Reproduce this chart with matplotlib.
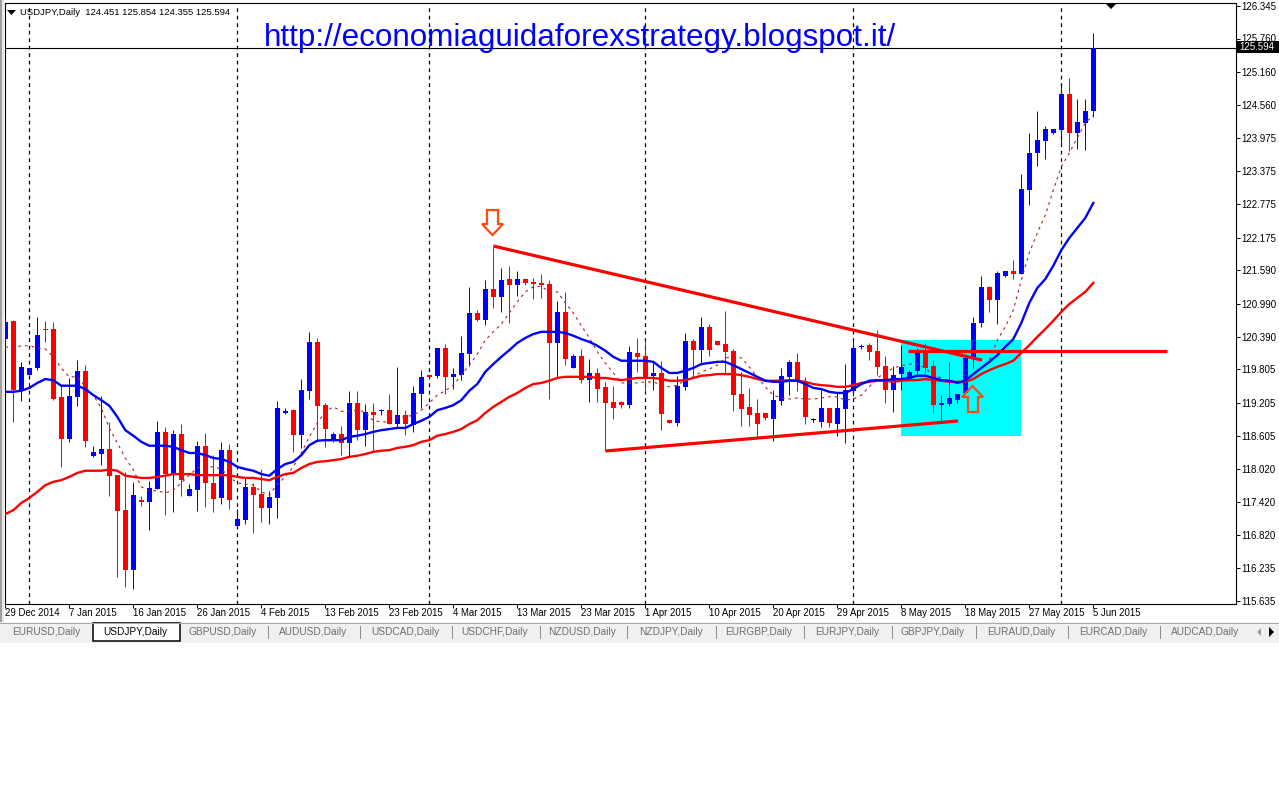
# USDJPY daily candles, MT4 style screenshot
import matplotlib
matplotlib.use('Agg')
import numpy as np
import matplotlib.pyplot as plt
from matplotlib.patches import Polygon, Rectangle

plt.rcParams['font.family'] = ['Liberation Sans', 'DejaVu Sans']

opens = [120.351,120.675,119.415,119.703,119.829,120.531,120.531,119.307,118.551,119.307,119.775,118.245,118.281,118.371,117.903,117.273,116.193,117.453,117.417,117.651,
         118.677,117.921,118.641,117.525,117.633,118.425,117.759,117.489,118.353,116.985,117.093,117.687,117.561,117.309,117.489,119.019,119.073,118.623,119.415,120.297,
         119.163,118.533,118.641,118.479,119.199,118.713,119.037,119.055,119.073,118.821,118.983,118.803,119.361,119.703,119.685,120.189,119.667,119.703,120.081,120.819,
         120.693,121.251,121.107,121.431,121.323,121.431,121.377,121.359,121.341,120.279,120.837,119.829,120.045,119.613,119.739,119.487,119.217,119.217,119.163,120.099,
         120.045,119.685,119.739,118.893,118.839,119.487,120.315,120.153,120.567,120.315,120.261,120.135,119.361,119.127,119.019,119.019,118.911,119.235,119.667,119.937,
         119.559,118.893,118.857,119.109,118.821,119.091,119.415,120.207,120.243,120.135,119.865,119.433,119.721,119.613,119.775,120.153,119.865,119.163,119.181,119.253,
         119.379,120.009,120.639,121.287,121.053,121.485,121.575,121.521,123.033,123.699,123.915,124.059,124.113,124.761,124.059,124.239,124.451]
highs = [120.729,120.693,119.937,119.829,120.747,120.675,120.657,119.505,119.649,119.973,119.883,118.425,119.325,118.857,117.903,117.957,117.777,117.525,117.795,118.875,
         118.767,118.713,118.821,117.741,118.515,118.659,118.263,118.497,118.461,117.291,117.849,117.759,118.011,117.615,119.235,119.109,119.091,119.631,120.477,120.369,
         119.199,118.677,118.785,119.415,119.415,119.181,119.199,119.091,119.361,119.847,119.073,119.505,119.793,119.703,120.189,120.261,119.829,120.405,121.287,120.873,
         121.413,122.025,121.629,121.665,121.575,121.431,121.449,121.521,121.413,121.035,121.197,120.081,120.171,119.991,119.829,119.577,119.505,119.235,120.225,120.369,
         120.333,119.937,119.955,118.893,119.685,120.459,120.351,120.747,120.621,120.315,120.855,120.171,119.757,119.469,119.271,119.019,119.433,119.829,119.973,120.099,
         119.667,118.929,119.433,119.109,119.379,119.901,120.333,120.261,120.279,120.513,120.045,119.865,120.243,119.793,120.189,120.279,119.973,119.343,119.937,119.361,
         120.009,120.747,121.485,121.305,121.575,121.575,121.773,123.321,124.059,124.455,124.185,124.131,124.905,125.049,124.671,124.671,125.854]
lows = [120.171,118.857,119.235,119.703,119.793,120.297,119.253,118.047,118.497,119.145,118.407,118.227,118.083,117.525,116.067,115.887,115.851,117.345,116.913,117.651,
        117.183,117.237,117.525,117.525,117.255,117.327,117.237,117.381,117.291,116.985,117.021,116.859,117.057,117.021,117.129,119.001,118.317,118.389,119.271,118.515,
        118.407,118.497,118.263,118.227,118.533,118.425,118.317,118.983,118.821,118.767,118.623,118.677,119.109,119.667,119.649,119.361,119.451,119.613,119.865,120.675,
        120.603,120.909,120.837,120.639,121.125,121.323,121.071,121.089,119.271,119.667,119.883,119.829,119.559,119.217,119.217,118.353,118.911,119.109,119.109,119.757,
        119.397,119.433,118.713,118.839,118.785,119.433,119.685,119.883,120.045,120.243,119.739,119.055,118.785,118.785,118.587,118.893,118.515,119.163,119.343,119.415,
        118.821,118.857,118.767,118.767,118.605,118.479,119.325,120.171,119.973,119.703,119.199,119.037,119.433,119.613,119.703,119.739,119.019,118.857,119.145,119.199,
        119.379,119.829,120.567,120.837,120.621,121.467,121.431,121.521,122.763,123.465,123.591,124.041,123.825,123.735,123.771,123.753,124.355]
closes = [120.657,119.433,119.847,119.829,120.423,120.513,119.271,118.551,119.325,119.775,118.515,118.317,118.371,117.885,117.255,116.193,117.543,117.417,117.669,118.677,
          117.921,118.641,117.813,117.651,118.425,117.759,117.471,118.353,117.453,117.111,117.687,117.543,117.309,117.507,119.109,119.055,118.623,119.433,120.297,119.145,
          118.731,118.641,118.479,119.199,118.713,119.037,118.983,119.073,118.821,118.983,118.821,119.379,119.667,119.667,120.189,119.667,119.721,120.099,120.819,120.693,
          121.251,121.107,121.413,121.323,121.431,121.359,121.341,121.323,120.279,120.837,119.991,120.045,119.613,119.739,119.451,119.199,119.109,119.163,120.117,120.027,
          119.649,119.739,119.001,118.839,119.505,120.315,120.153,120.567,120.153,120.243,120.117,119.343,119.091,118.983,118.821,118.929,119.253,119.685,119.937,119.577,
          118.947,118.893,119.109,118.839,119.109,119.433,120.189,120.225,120.117,119.847,119.433,119.703,119.847,119.757,120.099,119.829,119.163,119.199,119.289,119.361,
          120.009,120.639,121.287,121.053,121.539,121.575,121.521,123.051,123.699,123.933,124.131,124.131,124.761,124.059,124.257,124.455,125.594]

ma_blue = [119.40,119.40,119.42,119.47,119.56,119.63,119.61,119.51,119.51,119.51,119.45,119.34,119.25,119.15,118.95,118.71,118.61,118.50,118.43,118.43,
           118.43,118.41,118.35,118.30,118.30,118.26,118.21,118.19,118.14,118.05,118.01,117.98,117.92,117.89,118.01,118.10,118.14,118.26,118.44,118.52,
           118.53,118.53,118.53,118.59,118.61,118.64,118.68,118.71,118.73,118.75,118.75,118.82,118.88,118.95,119.07,119.11,119.16,119.25,119.42,119.54,
           119.76,119.90,120.03,120.15,120.28,120.37,120.44,120.48,120.48,120.48,120.46,120.41,120.35,120.30,120.23,120.14,120.03,119.96,119.96,119.96,
           119.96,119.94,119.83,119.74,119.74,119.78,119.83,119.90,119.92,119.94,119.94,119.88,119.81,119.74,119.67,119.60,119.58,119.58,119.60,119.60,
           119.54,119.47,119.45,119.40,119.38,119.38,119.45,119.54,119.60,119.61,119.61,119.63,119.63,119.65,119.69,119.69,119.65,119.61,119.60,119.56,
           119.60,119.72,119.83,119.94,120.06,120.21,120.35,120.64,121.00,121.27,121.43,121.67,121.95,122.17,122.35,122.53,122.80]
ma_red = [117.20,117.27,117.40,117.49,117.60,117.72,117.78,117.81,117.87,117.94,117.98,117.98,117.98,118.00,117.98,117.89,117.87,117.85,117.85,117.87,
          117.89,117.92,117.92,117.92,117.90,117.90,117.90,117.90,117.90,117.87,117.85,117.85,117.83,117.81,117.87,117.92,117.94,118.03,118.10,118.14,
          118.15,118.17,118.19,118.23,118.25,118.28,118.32,118.34,118.35,118.39,118.41,118.44,118.50,118.53,118.61,118.64,118.68,118.73,118.82,118.89,
          119.02,119.13,119.22,119.31,119.38,119.47,119.54,119.56,119.60,119.65,119.67,119.67,119.67,119.67,119.65,119.65,119.63,119.61,119.63,119.65,
          119.65,119.65,119.63,119.60,119.60,119.61,119.65,119.69,119.70,119.72,119.72,119.72,119.70,119.67,119.63,119.60,119.60,119.60,119.61,119.60,
          119.58,119.54,119.52,119.51,119.49,119.49,119.52,119.56,119.58,119.60,119.60,119.58,119.60,119.61,119.61,119.63,119.61,119.60,119.58,119.58,
          119.58,119.63,119.72,119.79,119.85,119.90,119.96,120.10,120.24,120.39,120.53,120.68,120.84,120.98,121.09,121.20,121.36]
ma_fast = [120.21,120.19,120.23,120.23,120.19,120.17,120.03,119.83,119.67,119.67,119.49,119.34,119.11,118.75,118.48,118.21,118.00,117.69,117.62,117.62,
           117.58,117.63,117.76,117.90,118.03,118.05,118.05,118.01,117.87,117.76,117.74,117.72,117.60,117.54,117.74,117.87,118.05,118.30,118.59,118.84,
           119.04,119.13,119.05,119.05,119.07,119.04,118.88,118.86,118.86,118.93,118.95,118.98,119.07,119.20,119.34,119.42,119.52,119.70,119.88,120.08,
           120.33,120.48,120.62,120.82,121.02,121.20,121.29,121.30,121.20,121.20,121.00,120.82,120.59,120.37,120.12,119.92,119.74,119.56,119.56,119.56,
           119.58,119.58,119.52,119.49,119.52,119.61,119.67,119.76,119.81,119.88,120.01,120.03,120.01,119.85,119.67,119.49,119.34,119.29,119.27,119.29,
           119.27,119.27,119.29,119.31,119.31,119.25,119.27,119.34,119.49,119.65,119.74,119.83,119.87,119.90,119.90,119.83,119.70,119.65,119.60,119.58,
           119.60,119.69,119.83,119.97,120.33,120.57,120.87,121.41,121.90,122.26,122.58,123.03,123.45,123.70,123.97,124.24,124.38]

price_ticks = [126.345,125.760,125.160,124.560,123.975,123.375,122.775,122.175,121.590,120.990,120.390,119.805,119.205,118.605,118.020,117.420,116.820,116.235,115.635]
date_labels = ['29 Dec 2014','7 Jan 2015','16 Jan 2015','26 Jan 2015','4 Feb 2015','13 Feb 2015','23 Feb 2015','4 Mar 2015','13 Mar 2015','23 Mar 2015',
               '1 Apr 2015','10 Apr 2015','20 Apr 2015','29 Apr 2015','8 May 2015','18 May 2015','27 May 2015','5 Jun 2015']
month_bars = [3, 29, 53, 80, 106, 132]
last_price = 125.594

# trend lines drawn by hand on the chart: (bar, price) pairs
down_trend = ([61, 122.1], [122.025, 119.97])
up_trend = ([75, 119.1], [118.335, 118.875])
level_line = ([112.85, 145.2], [120.135, 120.135])
box_bars = (111.96, 126.96)
box_prices = (118.605, 120.333)

tab_names = ['EURUSD','USDJPY','GBPUSD','AUDUSD','USDCAD','USDCHF','NZDUSD','NZDJPY','EURGBP','EURJPY','GBPJPY','EURAUD','EURCAD','AUDCAD']
tab_centers = [46,135,223,313,405,495,582,671,759,847,933,1021,1113,1205]
tab_seps = [268,360,452,540,627,716,804,892,976,1068,1160]

W, H = 1279, 802
fig = plt.figure(figsize=(W/100, H/100), dpi=100, facecolor='white')

# pixel layer for window furniture
ui = fig.add_axes([0, 0, 1, 1], zorder=0)
ui.set_xlim(0, W)
ui.set_ylim(H, 0)
ui.axis('off')
ui.add_patch(Rectangle((0, 0), 2, 622, fc='#a0a0a0', ec='none'))
ui.add_patch(Rectangle((2, 0), 2, 622, fc='#e8e8e8', ec='none'))
ui.add_patch(Rectangle((0, 622), W, 21, fc='#f0f0f0', ec='none'))
ui.plot([0, W], [622.5, 622.5], color='#a8a8a8', lw=0.7)
ui.add_patch(Rectangle((93, 623), 87, 18, fc='white', ec='black', lw=1.1))
for i, name in enumerate(tab_names):
    col = 'black' if name == 'USDJPY' else '#6e6e6e'
    ui.text(tab_centers[i], 632, name + ',Daily', ha='center', va='center', fontsize=7.3, color=col)
for s in tab_seps:
    ui.plot([s, s], [626, 638], color='#8a8a8a', lw=0.7)
ui.add_patch(Polygon([[1261, 628], [1261, 636], [1257, 632]], fc='#999999', ec='none'))
ui.add_patch(Polygon([[1269, 627], [1269, 637], [1274, 632]], fc='black', ec='none'))

# chart axes, bar index on x and price on y
ax = fig.add_axes([4.5/W, 1-603.5/H, 1231/W, 600/H], zorder=1)
ax.set_xlim(-0.1, 153.775)
ax.set_ylim(115.59, 126.39)
ax.set_facecolor('white')
for s in ax.spines.values():
    s.set_linewidth(0.8)
    s.set_color('black')

bars = np.arange(len(closes))
o, h, l, c = map(np.array, (opens, highs, lows, closes))
colors = np.where(c > o, '#0000ff', np.where(c < o, '#ff0000', '#000000'))

ax.add_patch(Rectangle((box_bars[0], box_prices[0]), box_bars[1]-box_bars[0], box_prices[1]-box_prices[0],
                       fc='#00ffff', ec='none', zorder=1))
ax.vlines(month_bars, 115.59, 126.39, colors='black', lw=0.9, linestyles=(0, (3, 3)), zorder=2)
ax.axhline(last_price, color='black', lw=0.8, zorder=2)

ax.vlines(bars, l, h, colors=colors, lw=0.72, zorder=3)
ax.bar(bars, np.maximum(np.abs(c-o), 0.018), bottom=np.minimum(o, c), width=0.7, color=colors, lw=0, zorder=4)

ax.plot(bars, ma_fast, color='#b22222', lw=0.8, ls=(0, (2.5, 3.5)), zorder=5)
ax.plot(bars, ma_red, color='#ff0000', lw=1.7, zorder=6)
ax.plot(bars, ma_blue, color='#0000ff', lw=1.7, zorder=7)

for line in (down_trend, up_trend, level_line):
    ax.plot(line[0], line[1], color='#ff0000', lw=2.3, zorder=8, solid_capstyle='butt')

ax.set_yticks(price_ticks)
ax.set_yticklabels(['%.3f' % p for p in price_ticks])
ax.yaxis.tick_right()
ax.tick_params(axis='y', length=3, width=0.7, pad=1.5, labelsize=7.0, colors='black')
ax.set_xticks(bars[::8])
ax.set_xticklabels(date_labels, ha='left')
ax.tick_params(axis='x', length=3, width=0.7, pad=0.5, labelsize=6.9, colors='black')

# top layer: arrows, header, price box
top = fig.add_axes([0, 0, 1, 1], zorder=2)
top.set_xlim(0, W)
top.set_ylim(H, 0)
top.axis('off')
top.patch.set_alpha(0)
top.add_patch(Polygon([[487, 210], [498, 210], [498, 224], [503, 224], [492.5, 235], [482, 224], [487, 224]],
                      closed=True, fc='none', ec='#ff4a12', lw=1.6))
top.add_patch(Polygon([[968, 412], [978, 412], [978, 397], [983, 397], [972.5, 386], [962, 397], [968, 397]],
                      closed=True, fc='none', ec='#ff4a12', lw=1.6))
top.add_patch(Polygon([[7, 10], [16, 10], [11.5, 15]], fc='black', ec='none'))
top.add_patch(Polygon([[1106, 4], [1116, 4], [1111, 9]], fc='black', ec='none'))
top.text(20, 12.5, 'USDJPY,Daily  124.451 125.854 124.355 125.594', fontsize=6.8, va='center', ha='left', color='black')
top.text(264, 38, 'http://economiaguidaforexstrategy.blogspot.it/', fontsize=22.6, va='center', ha='left', color='#0000ff')
top.add_patch(Rectangle((1237, 41), 42, 12, fc='black', ec='none'))
top.text(1239, 47, '%.3f' % last_price, fontsize=7.0, va='center', ha='left', color='white')

fig.savefig('out.png', dpi=100, facecolor='white')
